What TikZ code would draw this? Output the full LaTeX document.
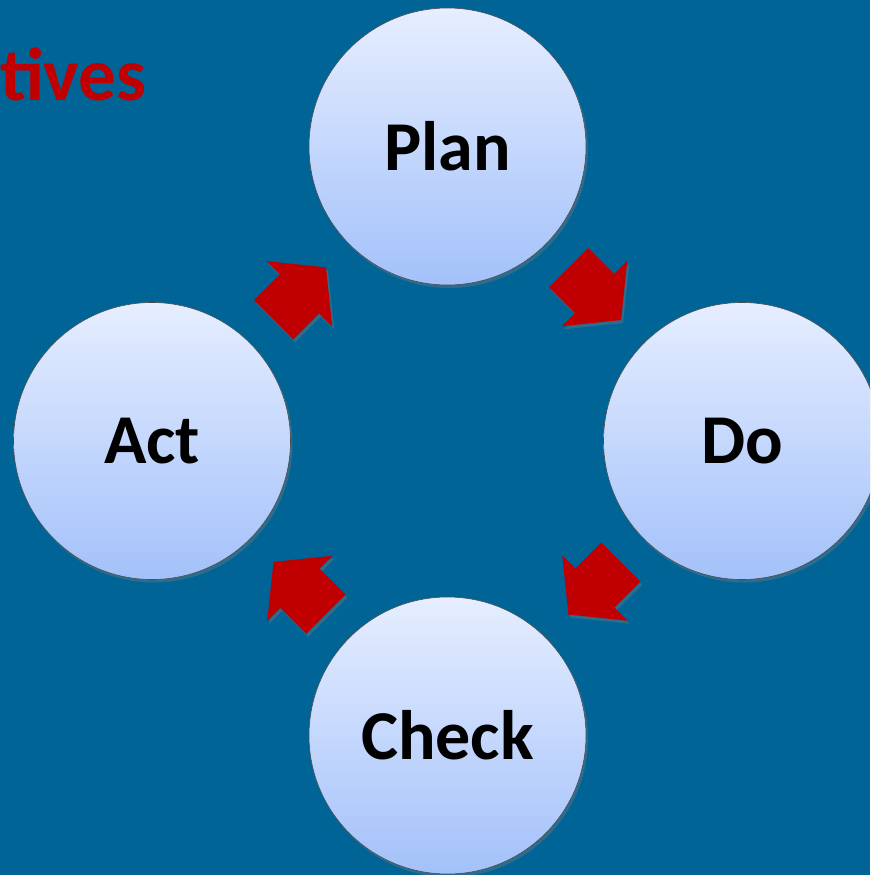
\documentclass[tikz,border=0pt]{standalone}
\usepackage{fontspec}
\setmainfont{Carlito}
\usetikzlibrary{calc, shapes.arrows, shadows}

\definecolor{bgblue}{RGB}{0,100,150}
\definecolor{arrowred}{RGB}{192,0,0}
\definecolor{circtop}{RGB}{230,238,255}
\definecolor{circbot}{RGB}{163,193,250}

\begin{document}
\begin{tikzpicture}[x=1pt, y=-1pt,
    stage/.style={circle, minimum size=277pt, inner sep=0pt,
      draw=gray!60!black, line width=0.6pt,
      top color=circtop, bottom color=circbot,
      font=\bfseries\fontsize{70}{74}\selectfont,
      drop shadow={shadow xshift=2pt, shadow yshift=-3pt, opacity=0.35}},
    cyclearrow/.style={single arrow, fill=arrowred, anchor=tail,
      inner xsep=0pt, inner ysep=27.5pt, minimum height=74pt,
      single arrow head extend=18.5pt, single arrow tip angle=102,
      drop shadow={shadow xshift=2pt, shadow yshift=-3pt, opacity=0.35}}]
    \useasboundingbox (0,0) rectangle (870,875);
    \fill[bgblue] (0,0) rectangle (870,875);
    \clip (0,0) rectangle (870,875);

    \node[anchor=base east, text=arrowred, font=\bfseries\fontsize{75}{80}\selectfont] (title) at (150,100) {tives};

    \node[stage] (plan) at (447.5,146.5) {Plan};
    \node[stage] (do) at (742,441) {Do};
    \node[stage] (check) at (447.5,735.5) {Check};
    \node[stage] (act) at (152,441) {Act};

    % arrows sit on the middle between two stages, tail 37pt back
    \node[cyclearrow, rotate=-45] (arr1) at ($(plan)!0.5!(do)!37pt!(plan)$) {};
    \node[cyclearrow, rotate=-135] (arr2) at ($(do)!0.5!(check)!37pt!(do)$) {};
    \node[cyclearrow, rotate=135] (arr3) at ($(check)!0.5!(act)!37pt!(check)$) {};
    \node[cyclearrow, rotate=45] (arr4) at ($(act)!0.5!(plan)!37pt!(act)$) {};
\end{tikzpicture}
\end{document}
